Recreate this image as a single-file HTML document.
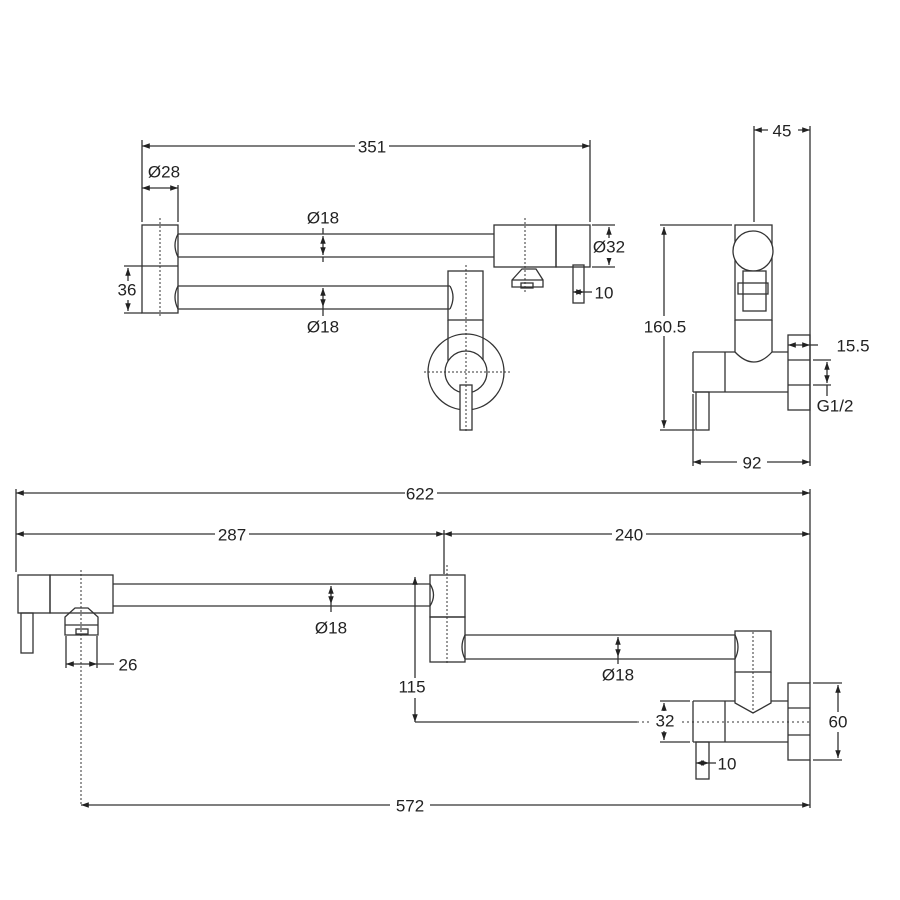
<!DOCTYPE html>
<html><head><meta charset="utf-8"><style>
html,body{margin:0;padding:0;background:#fff;}
svg{display:block}
text{font-family:"Liberation Sans",sans-serif;font-size:17px;fill:#222;text-anchor:middle;dominant-baseline:central}
</style></head><body>
<svg width="900" height="900" viewBox="0 0 900 900" xmlns="http://www.w3.org/2000/svg">
<defs>
<marker id="a" viewBox="0 0 10 10" refX="10" refY="5" markerWidth="6" markerHeight="6" orient="auto-start-reverse"><path d="M0,1.5L10,5L0,8.5z" fill="#222"/></marker>
</defs>
<g fill="none" stroke="#333" stroke-width="1.3">
<!-- ===== TOP VIEW ===== -->
<line x1="142" y1="146" x2="590" y2="146" marker-start="url(#a)" marker-end="url(#a)"/>
<line x1="142" y1="140" x2="142" y2="222"/>
<line x1="590" y1="140" x2="590" y2="222"/>
<line x1="178" y1="185" x2="178" y2="222"/>
<line x1="142" y1="188" x2="178" y2="188" marker-start="url(#a)" marker-end="url(#a)"/>
<rect x="142" y="225" width="36" height="88"/>
<line x1="142" y1="266" x2="178" y2="266"/>
<line x1="160" y1="218" x2="160" y2="318" stroke-dasharray="2,2" stroke-width="1"/>
<path d="M178,234 H494 M178,257 H494 M178,234 Q172,245 178,257"/>
<path d="M178,286 H450 M178,309 H450 M178,286 Q172,297 178,309 M450,286 Q456,297 450,309"/>
<rect x="494" y="225" width="62" height="42"/>
<rect x="556" y="225" width="34" height="42"/>
<path d="M512,280 L522,269 H536 L543,280 V287 H512 Z M512,280 H543"/>
<rect x="521" y="283" width="12" height="5"/>
<line x1="525" y1="218" x2="525" y2="292" stroke-dasharray="2,2" stroke-width="1"/>
<rect x="573" y="265" width="11" height="38"/>
<line x1="592" y1="225" x2="615" y2="225"/><line x1="592" y1="267" x2="615" y2="267"/>
<line x1="609" y1="227" x2="609" y2="265" marker-start="url(#a)" marker-end="url(#a)"/>
<line x1="573" y1="292" x2="584" y2="292" marker-start="url(#a)" marker-end="url(#a)"/>
<line x1="584" y1="292" x2="592" y2="292"/>
<rect x="448" y="271" width="35" height="49"/>
<path d="M448,320 V378 M483,320 V378"/>
<circle cx="466" cy="372" r="38"/>
<circle cx="466" cy="372" r="21" fill="#fff"/>
<rect x="460" y="385" width="12" height="45" fill="#fff"/>
<line x1="466" y1="265" x2="466" y2="432" stroke-dasharray="2,2" stroke-width="1"/>
<line x1="424" y1="372" x2="510" y2="372" stroke-dasharray="2,2" stroke-width="1"/>
<line x1="124" y1="266" x2="142" y2="266"/><line x1="124" y1="313" x2="142" y2="313"/>
<line x1="128" y1="268" x2="128" y2="311" marker-start="url(#a)" marker-end="url(#a)"/>
<line x1="323" y1="236" x2="323" y2="255" marker-start="url(#a)" marker-end="url(#a)"/>
<line x1="323" y1="228" x2="323" y2="234"/><line x1="323" y1="257" x2="323" y2="262"/>
<line x1="323" y1="288" x2="323" y2="307" marker-start="url(#a)" marker-end="url(#a)"/>
<line x1="323" y1="307" x2="323" y2="316"/>
<!-- ===== SIDE VIEW ===== -->
<line x1="754" y1="130" x2="810" y2="130" marker-start="url(#a)" marker-end="url(#a)"/>
<line x1="754" y1="126" x2="754" y2="222"/>
<line x1="810" y1="126" x2="810" y2="466"/>
<rect x="735" y="225" width="37" height="95"/>
<circle cx="753" cy="251" r="20" fill="#fff"/>
<rect x="743" y="271" width="23" height="40" fill="#fff"/>
<rect x="738" y="283" width="30" height="11" fill="none"/>
<path d="M735,320 V352 Q754,372 772,352 V320"/>
<path d="M693,352 H735 M772,352 H788 M693,392 H788 M693,352 V392"/>
<line x1="725" y1="352" x2="725" y2="392"/>
<rect x="696" y="392" width="13" height="38"/>
<rect x="788" y="335" width="22" height="75"/>
<line x1="788" y1="360" x2="810" y2="360"/><line x1="788" y1="385" x2="810" y2="385"/>
<line x1="660" y1="225" x2="732" y2="225"/><line x1="660" y1="430" x2="695" y2="430"/>
<line x1="664" y1="227" x2="664" y2="428" marker-start="url(#a)" marker-end="url(#a)"/>
<line x1="788" y1="345" x2="810" y2="345" marker-start="url(#a)" marker-end="url(#a)"/>
<line x1="810" y1="345" x2="818" y2="345"/>
<line x1="813" y1="360" x2="831" y2="360"/><line x1="813" y1="385" x2="831" y2="385"/>
<line x1="827" y1="362" x2="827" y2="383" marker-start="url(#a)" marker-end="url(#a)"/>
<line x1="827" y1="385" x2="827" y2="396"/>
<line x1="693" y1="394" x2="693" y2="466"/>
<line x1="693" y1="462" x2="810" y2="462" marker-start="url(#a)" marker-end="url(#a)"/>
<!-- ===== BOTTOM VIEW ===== -->
<line x1="16" y1="493" x2="810" y2="493" marker-start="url(#a)" marker-end="url(#a)"/>
<line x1="16" y1="489" x2="16" y2="572"/>
<line x1="810" y1="489" x2="810" y2="683"/>
<line x1="16" y1="534" x2="444" y2="534" marker-start="url(#a)" marker-end="url(#a)"/>
<line x1="444" y1="534" x2="810" y2="534" marker-start="url(#a)" marker-end="url(#a)"/>
<line x1="444" y1="530" x2="444" y2="574"/>
<rect x="18" y="575" width="32" height="38"/>
<rect x="50" y="575" width="63" height="38"/>
<rect x="21" y="613" width="12" height="40"/>
<path d="M65,617 L75,608 H88 L98,617 V635 H65 Z M65,625 H98"/>
<rect x="76" y="629" width="12" height="5"/>
<line x1="81" y1="570" x2="81" y2="805" stroke-dasharray="2,2" stroke-width="1"/>
<path d="M113,584 H430 M113,606 H430"/>
<line x1="331" y1="586" x2="331" y2="604" marker-start="url(#a)" marker-end="url(#a)"/>
<line x1="331" y1="604" x2="331" y2="612"/>
<line x1="66" y1="636" x2="66" y2="668"/><line x1="97" y1="636" x2="97" y2="668"/>
<line x1="66" y1="664" x2="97" y2="664" marker-start="url(#a)" marker-end="url(#a)"/>
<line x1="97" y1="664" x2="114" y2="664"/>
<rect x="430" y="575" width="35" height="42"/>
<rect x="430" y="617" width="35" height="45"/>
<path d="M430,584 Q437,595 430,606" />
<line x1="447" y1="565" x2="447" y2="665" stroke-dasharray="2,2" stroke-width="1"/>
<path d="M465,635 H735 M465,659 H735 M465,635 Q459,647 465,659 M735,635 Q741,647 735,659"/>
<rect x="735" y="631" width="36" height="41"/>
<path d="M735,672 V703 L753,713 L771,703 V672"/>
<line x1="753" y1="632" x2="753" y2="713" stroke-dasharray="2,2" stroke-width="1"/>
<line x1="415" y1="577" x2="415" y2="722" marker-start="url(#a)" marker-end="url(#a)"/>
<line x1="415" y1="722" x2="637" y2="722"/>
<line x1="637" y1="722" x2="810" y2="722" stroke-dasharray="2,3" stroke-width="1"/>
<path d="M693,701 H735 M771,701 H788 M693,742 H788 M693,701 V742"/>
<line x1="725" y1="701" x2="725" y2="742"/>
<rect x="696" y="742" width="13" height="37"/>
<rect x="788" y="683" width="22" height="77"/>
<line x1="788" y1="708" x2="810" y2="708"/><line x1="788" y1="735" x2="810" y2="735"/>
<line x1="660" y1="701" x2="690" y2="701"/><line x1="660" y1="742" x2="690" y2="742"/>
<line x1="664" y1="703" x2="664" y2="740" marker-start="url(#a)" marker-end="url(#a)"/>
<line x1="813" y1="683" x2="842" y2="683"/><line x1="813" y1="760" x2="842" y2="760"/>
<line x1="838" y1="685" x2="838" y2="758" marker-start="url(#a)" marker-end="url(#a)"/>
<line x1="696" y1="763" x2="709" y2="763" marker-start="url(#a)" marker-end="url(#a)"/>
<line x1="709" y1="763" x2="716" y2="763"/>
<line x1="618" y1="637" x2="618" y2="657" marker-start="url(#a)" marker-end="url(#a)"/>
<line x1="618" y1="657" x2="618" y2="664"/>
<line x1="810" y1="760" x2="810" y2="808"/>
<line x1="81" y1="805" x2="810" y2="805" marker-start="url(#a)" marker-end="url(#a)"/>
</g>
<g fill="#fff">
<rect x="355" y="138" width="34" height="18"/>
<rect x="405" y="485" width="32" height="18"/>
<rect x="215" y="526" width="34" height="18"/>
<rect x="612" y="526" width="34" height="18"/>
<rect x="390" y="797" width="40" height="18"/>
<rect x="768" y="122" width="30" height="18"/>
<rect x="737" y="454" width="30" height="18"/>
<rect x="642" y="316" width="46" height="20"/>
<rect x="396" y="678" width="34" height="20"/>
<rect x="650" y="711" width="30" height="20"/>
<rect x="591" y="238" width="36" height="20"/>
<rect x="116" y="281" width="22" height="19"/>
<rect x="824" y="712" width="28" height="20"/>
<rect x="834" y="337" width="38" height="19"/>
<rect x="815" y="397" width="40" height="19"/>
<rect x="116" y="655" width="24" height="19"/>
<rect x="305" y="209" width="36" height="19"/>
<rect x="305" y="318" width="36" height="19"/>
<rect x="313" y="619" width="36" height="19"/>
<rect x="600" y="666" width="36" height="19"/>
</g>
<text x="372" y="147">351</text>
<text x="164" y="172">Ø28</text>
<text x="323" y="218">Ø18</text>
<text x="323" y="327">Ø18</text>
<text x="609" y="247">Ø32</text>
<text x="604" y="293">10</text>
<text x="127" y="290">36</text>
<text x="782" y="131">45</text>
<text x="665" y="327">160.5</text>
<text x="853" y="346">15.5</text>
<text x="835" y="406">G1/2</text>
<text x="752" y="463">92</text>
<text x="420" y="494">622</text>
<text x="232" y="535">287</text>
<text x="629" y="535">240</text>
<text x="331" y="628">Ø18</text>
<text x="128" y="665">26</text>
<text x="412" y="687">115</text>
<text x="618" y="675">Ø18</text>
<text x="665" y="721">32</text>
<text x="838" y="722">60</text>
<text x="727" y="764">10</text>
<text x="410" y="806">572</text>
</svg>
</body></html>
